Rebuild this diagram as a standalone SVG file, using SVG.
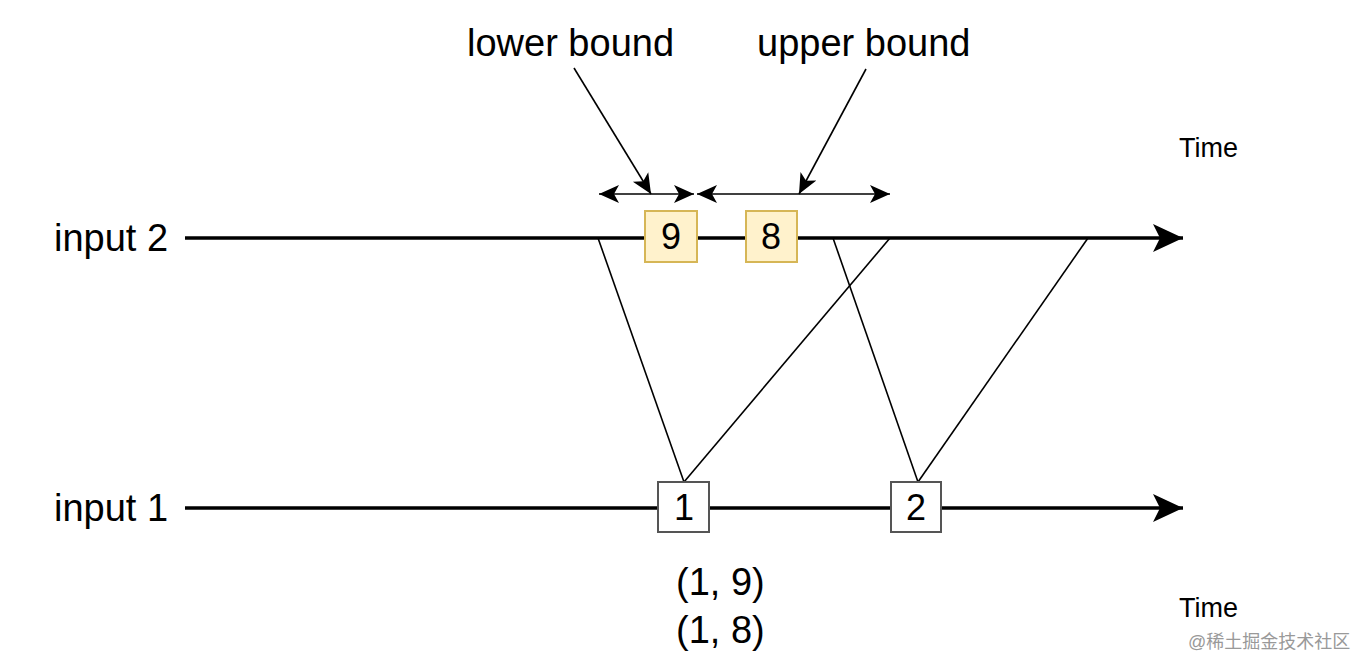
<svg xmlns="http://www.w3.org/2000/svg" width="1369" height="671" viewBox="0 0 1369 671">
<style>
text{font-family:"Liberation Sans",Arial,sans-serif;fill:#000}
.lbl{font-size:38px}
.num{font-size:36px;text-anchor:middle}
.time{font-size:27px}
.main{stroke:#000;stroke-width:3.5;fill:none}
.thin{stroke:#000;stroke-width:1.6;fill:none}
.ybox{fill:#fff2cc;stroke:#d6b656;stroke-width:2}
.wbox{fill:#fff;stroke:#555;stroke-width:2}
</style>
<defs>
<marker id="big" markerUnits="userSpaceOnUse" viewBox="0 0 30 30" markerWidth="30" markerHeight="30" refX="30" refY="15" orient="auto">
<path d="M0,1 L30,15 L0,29 L7,15 Z" fill="#000"/>
</marker>
<marker id="sm" markerUnits="userSpaceOnUse" viewBox="0 0 20 20" markerWidth="20" markerHeight="20" refX="20" refY="10" orient="auto-start-reverse">
<path d="M0,1 L20,10 L0,19 L5,10 Z" fill="#000"/>
</marker>
</defs>
<g id="connectors">
<line class="main" x1="185" y1="238" x2="1183" y2="238" marker-end="url(#big)"/>
<line class="main" x1="185" y1="508" x2="1183" y2="508" marker-end="url(#big)"/>
<line class="thin" x1="598" y1="238" x2="684" y2="482"/>
<line class="thin" x1="684" y1="482" x2="890" y2="238"/>
<line class="thin" x1="833" y1="238" x2="918" y2="482"/>
<line class="thin" x1="918" y1="482" x2="1088" y2="238"/>
<line class="thin" x1="599" y1="194" x2="694" y2="194" marker-start="url(#sm)" marker-end="url(#sm)"/>
<line class="thin" x1="697" y1="194" x2="890" y2="194" marker-start="url(#sm)" marker-end="url(#sm)"/>
<line class="thin" x1="574" y1="68" x2="651" y2="194" marker-end="url(#sm)"/>
<line class="thin" x1="866" y1="69" x2="799" y2="194" marker-end="url(#sm)"/>
</g>
<g id="node-9"><rect class="ybox" x="645" y="211" width="52" height="51"/><text class="num" x="671" y="249">9</text></g>
<g id="node-8"><rect class="ybox" x="746" y="211" width="51" height="51"/><text class="num" x="771" y="249">8</text></g>
<g id="node-1"><rect class="wbox" x="658" y="482" width="51" height="50"/><text class="num" x="684" y="520">1</text></g>
<g id="node-2"><rect class="wbox" x="891" y="482" width="50" height="50"/><text class="num" x="916" y="520">2</text></g>
<g id="labels">
<text class="lbl" x="467" y="56">lower bound</text>
<text class="lbl" x="757" y="56">upper bound</text>
<text class="lbl" x="54" y="251">input 2</text>
<text class="lbl" x="54" y="521">input 1</text>
<text class="lbl" x="676" y="595">(1, 9)</text>
<text class="lbl" x="676" y="643">(1, 8)</text>
<text class="time" x="1179" y="157">Time</text>
<text class="time" x="1179" y="617">Time</text>
<text x="1188" y="648" style="font-size:18px;fill:#999;font-family:'Liberation Sans','Noto Sans CJK SC',sans-serif">@稀土掘金技术社区</text>
</g>
</svg>
